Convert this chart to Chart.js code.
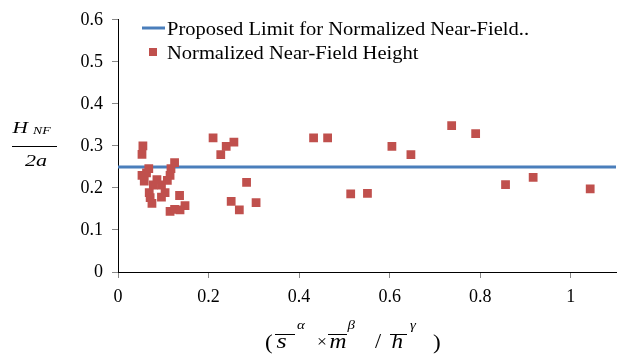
<!DOCTYPE html>
<html>
<head>
<meta charset="utf-8">
<script src="https://cdn.jsdelivr.net/npm/chart.js@4.4.1/dist/chart.umd.min.js"></script>
<style>
html,body{margin:0;padding:0;background:#fff;}
#wrap{width:618px;height:356px;position:relative;}
</style>
</head>
<body>
<div id="wrap"><canvas id="c" width="618" height="356"></canvas></div>
<script>
// ---- data ----
const xValues = [0.055,0.053,0.068,0.125,0.117,0.053,0.063,0.115,0.058,0.109,0.078,0.096,0.069,0.104,0.136,0.071,0.096,0.075,0.148,0.115,0.125,0.137,0.086,
  0.210,0.239,0.256,0.227,0.432,0.463,0.605,0.647,0.284,0.250,0.305,0.268,0.514,0.551,0.737,0.790,0.856,0.917,1.043];
const yValues = [0.300,0.280,0.246,0.260,0.246,0.230,0.236,0.230,0.216,0.218,0.207,0.207,0.189,0.189,0.182,0.177,0.178,0.163,0.158,0.144,0.149,0.148,0.220,
  0.319,0.299,0.309,0.279,0.319,0.319,0.299,0.279,0.213,0.168,0.165,0.148,0.186,0.187,0.348,0.329,0.208,0.225,0.198];
const limitX = [0, 1.1];
const limitY = [0.25, 0.25];
const xTickValues = [0, 0.2, 0.4, 0.6, 0.8, 1.0];
const yTickValues = [0, 0.1, 0.2, 0.3, 0.4, 0.5, 0.6];
const seriesNames = ['Proposed Limit for Normalized Near-Field..', 'Normalized Near-Field Height'];

const BLUE = '#4A7EBB';
const RED = '#C0504D';
const SERIF = '"Liberation Serif", "Times New Roman", serif';

const scatterData = xValues.map((x, i) => ({x: x, y: yValues[i]}));
const lineData = limitX.map((x, i) => ({x: x, y: limitY[i]}));

function wideText(ctx, txt, x, y, font, sx) {
  ctx.save();
  ctx.font = font;
  ctx.translate(x, y);
  ctx.scale(sx, 1);
  ctx.fillText(txt, 0, 0);
  ctx.restore();
}
function hline(ctx, x1, x2, y) {
  ctx.beginPath(); ctx.moveTo(x1, y); ctx.lineTo(x2, y); ctx.stroke();
}

const legendPlugin = {
  id: 'customLegend',
  afterDraw(chart) {
    const ctx = chart.ctx;
    ctx.save();
    ctx.fillStyle = '#000';
    ctx.textBaseline = 'alphabetic';
    ctx.strokeStyle = BLUE;
    ctx.lineWidth = 3;
    hline(ctx, 142, 165, 28);
    wideText(ctx, seriesNames[0], 167, 34.5, '18px ' + SERIF, 1.14);
    ctx.fillStyle = RED;
    ctx.fillRect(149, 48, 8, 8);
    ctx.fillStyle = '#000';
    wideText(ctx, seriesNames[1], 167, 58.5, '18px ' + SERIF, 1.14);
    ctx.restore();
  }
};

const titlePlugin = {
  id: 'customTitles',
  afterDraw(chart) {
    const ctx = chart.ctx;
    ctx.save();
    ctx.fillStyle = '#000';
    ctx.strokeStyle = '#000';
    ctx.textBaseline = 'alphabetic';
    const it = s => 'italic ' + s + 'px ' + SERIF;
    const rm = s => s + 'px ' + SERIF;
    ctx.lineWidth = 1;
    // Y title: H_NF / 2a
    wideText(ctx, 'H', 12.5, 133, it(17), 1.25);
    wideText(ctx, 'NF', 33, 133.5, it(11), 1.25);
    hline(ctx, 12, 57, 146.5);
    wideText(ctx, '2a', 25, 166, it(17), 1.3);
    // X title: ( s^α × m^β / h^γ )
    const base = 348;
    const sup = 329;
    const ov = 334.5;
    wideText(ctx, '(', 265, base + 1, rm(21), 1.1);
    wideText(ctx, 's', 276.5, base, it(21), 1.25);
    hline(ctx, 275, 295, ov);
    wideText(ctx, '\u03B1', 297, sup, it(13), 1.15);
    wideText(ctx, '\u00D7', 317, base - 1, rm(16), 1.1);
    wideText(ctx, 'm', 329.5, base, it(21), 1.12);
    hline(ctx, 328, 347, ov);
    wideText(ctx, '\u03B2', 347.5, sup, it(13), 1.15);
    wideText(ctx, '/', 375, base, rm(20), 1.1);
    wideText(ctx, 'h', 391.5, base, it(21), 1.1);
    hline(ctx, 390, 407, ov);
    wideText(ctx, '\u03B3', 410, sup, it(13), 1.15);
    wideText(ctx, ')', 433, base + 1, rm(21), 1.1);
    ctx.restore();
  }
};

new Chart(document.getElementById('c'), {
  type: 'scatter',
  data: {
    datasets: [
      {
        label: seriesNames[0],
        data: lineData,
        showLine: true,
        borderColor: BLUE,
        borderWidth: 3,
        pointRadius: 0,
        order: 1
      },
      {
        label: seriesNames[1],
        data: scatterData,
        pointStyle: 'rect',
        pointRadius: 6.2,
        pointHoverRadius: 6.2,
        backgroundColor: RED,
        borderColor: RED,
        borderWidth: 0,
        order: 0
      }
    ]
  },
  options: {
    responsive: false,
    animation: false,
    devicePixelRatio: 1,
    layout: {autoPadding: false, padding: {top: 16, right: 2, left: 0, bottom: 0}},
    plugins: {legend: {display: false}, tooltip: {enabled: false}},
    scales: {
      x: {
        type: 'linear', min: 0, max: 1.1,
        afterFit: s => { s.height = 84; },
        afterBuildTicks: s => { s.ticks = xTickValues.map(v => ({value: v})); },
        grid: {drawOnChartArea: false, drawTicks: true, tickLength: 6, color: '#888'},
        border: {display: true, color: '#000', width: 1},
        ticks: {font: {family: SERIF, size: 18}, color: '#000', padding: 8, maxRotation: 0,
          callback: v => String(Math.round(v * 10) / 10)}
      },
      y: {
        type: 'linear', min: 0, max: 0.6,
        afterFit: s => { s.width = 118; },
        afterBuildTicks: s => { s.ticks = yTickValues.map(v => ({value: v})); },
        grid: {drawOnChartArea: false, drawTicks: true, tickLength: 6, color: '#888'},
        border: {display: true, color: '#000', width: 1},
        ticks: {font: {family: SERIF, size: 18}, color: '#000', padding: 9,
          callback: v => String(Math.round(v * 10) / 10)}
      }
    }
  },
  plugins: [legendPlugin, titlePlugin]
});
</script>
</body>
</html>
